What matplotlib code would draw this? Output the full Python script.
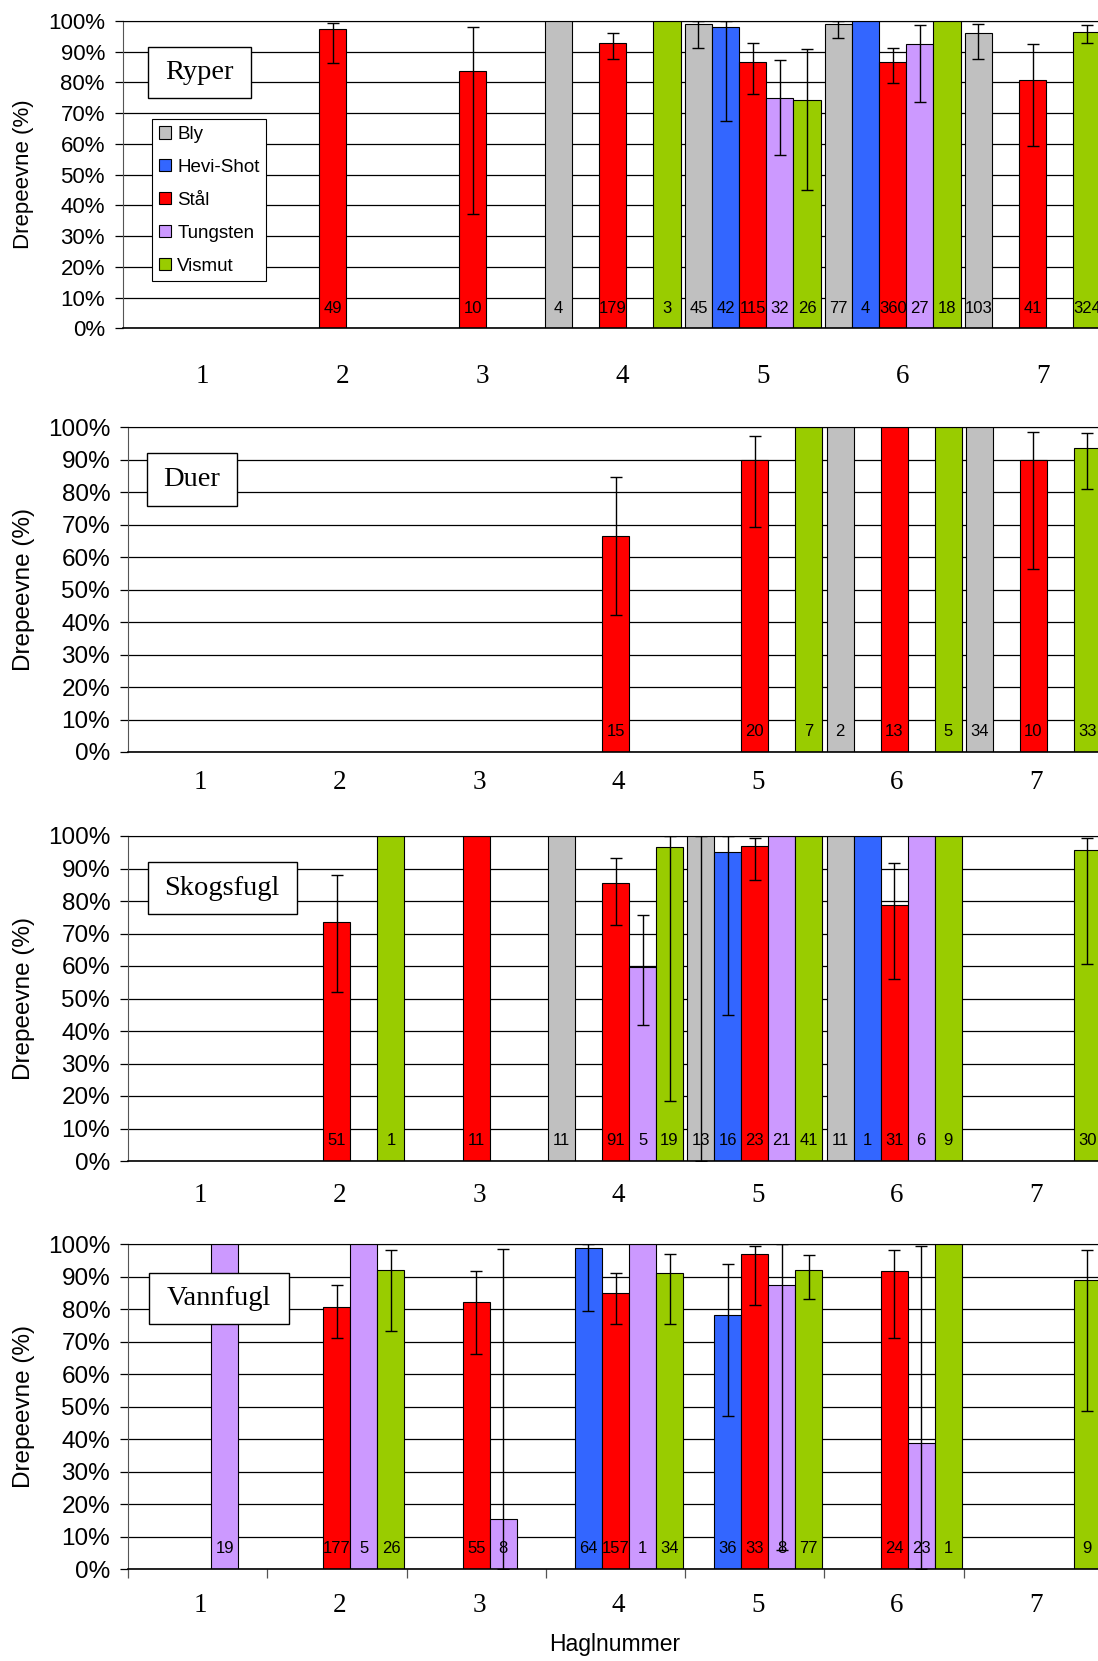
import numpy as np
import matplotlib
matplotlib.use('Agg')
import matplotlib.pyplot as plt
from matplotlib.patches import Rectangle
from matplotlib.transforms import offset_copy

plt.rcParams['font.family'] = 'Liberation Sans'

haglnummer = [1, 2, 3, 4, 5, 6, 7]
materials = ['Bly', 'Hevi-Shot', 'Stål', 'Tungsten', 'Vismut']
colors = ['#C0C0C0', '#3366FF', '#FF0000', '#CC99FF', '#99CC00']

# (haglnummer, material, drepeevne %, nedre, øvre, antall)
ryper = [
    (2, 'Stål', 97.4, 86.3, 99.5, 49),
    (3, 'Stål', 83.7, 37.1, 98.2, 10),
    (4, 'Bly', 100, None, None, 4),
    (4, 'Stål', 92.8, 87.7, 96.0, 179),
    (4, 'Vismut', 100, None, None, 3),
    (5, 'Bly', 99.0, 91.2, 100, 45),
    (5, 'Hevi-Shot', 98.0, 67.6, 100, 42),
    (5, 'Stål', 86.8, 76.1, 93.0, 115),
    (5, 'Tungsten', 75.1, 56.3, 87.3, 32),
    (5, 'Vismut', 74.2, 45.1, 90.9, 26),
    (6, 'Bly', 99.0, 94.5, 100, 77),
    (6, 'Hevi-Shot', 100, None, None, 4),
    (6, 'Stål', 86.8, 79.7, 91.3, 360),
    (6, 'Tungsten', 92.4, 73.6, 98.6, 27),
    (6, 'Vismut', 100, None, None, 18),
    (7, 'Bly', 96.0, 87.7, 99.0, 103),
    (7, 'Stål', 80.7, 59.3, 92.5, 41),
    (7, 'Vismut', 96.4, 92.7, 98.6, 324),
]

duer = [
    (4, 'Stål', 66.5, 42.1, 84.7, 15),
    (5, 'Stål', 90.0, 69.3, 97.3, 20),
    (5, 'Vismut', 100, None, None, 7),
    (6, 'Bly', 100, None, None, 2),
    (6, 'Stål', 100, None, None, 13),
    (6, 'Vismut', 100, None, None, 5),
    (7, 'Bly', 100, None, None, 34),
    (7, 'Stål', 90.0, 56.5, 98.7, 10),
    (7, 'Vismut', 93.7, 81.0, 98.2, 33),
]

skogsfugl = [
    (2, 'Stål', 73.5, 52.0, 87.9, 51),
    (2, 'Vismut', 100, None, None, 1),
    (3, 'Stål', 100, None, None, 11),
    (4, 'Bly', 100, None, None, 11),
    (4, 'Stål', 85.5, 72.6, 93.2, 91),
    (4, 'Tungsten', 59.6, 42.0, 75.6, 5),
    (4, 'Vismut', 96.5, 18.6, 100, 19),
    (5, 'Bly', 100, 0, 100, 13),
    (5, 'Hevi-Shot', 95.1, 44.9, 100, 16),
    (5, 'Stål', 97.0, 86.6, 99.5, 23),
    (5, 'Tungsten', 100, None, None, 21),
    (5, 'Vismut', 100, None, None, 41),
    (6, 'Bly', 100, None, None, 11),
    (6, 'Hevi-Shot', 100, None, None, 1),
    (6, 'Stål', 78.9, 55.9, 91.7, 31),
    (6, 'Tungsten', 100, None, None, 6),
    (6, 'Vismut', 100, None, None, 9),
    (7, 'Vismut', 95.6, 60.7, 99.5, 30),
]

vannfugl = [
    (1, 'Tungsten', 100, None, None, 19),
    (2, 'Stål', 80.7, 71.2, 87.5, 177),
    (2, 'Tungsten', 100, None, None, 5),
    (2, 'Vismut', 92.2, 73.2, 98.1, 26),
    (3, 'Stål', 82.2, 66.4, 91.8, 55),
    (3, 'Tungsten', 15.4, 0, 98.5, 8),
    (4, 'Hevi-Shot', 98.9, 79.5, 100, 64),
    (4, 'Stål', 85.1, 75.4, 91.3, 157),
    (4, 'Tungsten', 100, None, None, 1),
    (4, 'Vismut', 91.3, 75.4, 97.1, 34),
    (5, 'Hevi-Shot', 78.4, 47.2, 93.8, 36),
    (5, 'Stål', 97.1, 81.2, 99.5, 33),
    (5, 'Tungsten', 87.4, 5.8, 100, 8),
    (5, 'Vismut', 92.2, 83.3, 96.6, 77),
    (6, 'Stål', 91.7, 71.2, 98.1, 24),
    (6, 'Tungsten', 38.8, 0, 99.5, 23),
    (6, 'Vismut', 100, None, None, 1),
    (7, 'Vismut', 88.9, 48.6, 98.4, 9),
]

W, H = 1098, 1661
fig = plt.figure(figsize=(W / 100, H / 100), dpi=100)

# title, data, axes box px (left, top, right, bottom), font size,
# hagl number position below axis (px down, px right), title box px
panels = [
    ('Ryper', ryper, (122.7, 21, 1102.7, 328.3), 16, (48, 10), (148.4, 46.7, 250.8, 98.3)),
    ('Duer', duer, (128, 427.3, 1103, 752), 17.5, (31, 3), (146.6, 453.3, 236.8, 505.7)),
    ('Skogsfugl', skogsfugl, (128, 836, 1103, 1161), 17.5, (34, 3), (147.7, 862.3, 296.7, 914)),
    ('Vannfugl', vannfugl, (128, 1244.3, 1103, 1569.3), 17.5, (36, 3), (148.7, 1272.7, 289.4, 1324)),
]

bar_w = 0.194
axes = []
for i, (title, rows, box, fs, num_off, tbox) in enumerate(panels):
    l, t, r, b = box
    ax = fig.add_axes([l / W, 1 - b / H, (r - l) / W, (b - t) / H])
    axes.append(ax)
    for j, mat in enumerate(materials):
        sub = [row for row in rows if row[1] == mat]
        x = np.array([haglnummer.index(s[0]) for s in sub]) + (j - 2) * bar_w
        v = [s[2] for s in sub]
        ax.bar(x, v, bar_w, color=colors[j], edgecolor='black', linewidth=0.8,
               label=mat, zorder=2)
        for xx, s in zip(x, sub):
            if s[3] is not None:
                ax.errorbar(xx, s[2], yerr=[[s[2] - s[3]], [s[4] - s[2]]], fmt='none',
                            ecolor='black', elinewidth=1, capsize=4.3, capthick=1, zorder=3)
            ax.text(xx, 6.3, str(s[5]), ha='center', va='center', fontsize=12, zorder=4)

    ax.set_xlim(-0.5, 6.5)
    ax.set_ylim(0, 100)
    ax.set_yticks(range(0, 101, 10))
    ax.set_yticklabels([f'{v}%' for v in range(0, 101, 10)])
    ax.yaxis.grid(True, color='black', linewidth=0.9)
    ax.set_axisbelow(True)
    ax.tick_params(axis='y', direction='out', length=5.8, width=0.9, pad=7, labelsize=fs)
    ax.spines['right'].set_visible(False)
    ax.spines['left'].set_color('#555555')
    ax.spines['bottom'].set_linewidth(1.2)

    if i == len(panels) - 1:
        ax.set_xticks(np.arange(-0.5, 7, 1))
        ax.set_xticklabels([])
        ax.tick_params(axis='x', direction='out', length=6.3, width=0.9, color='#555555')
    else:
        ax.set_xticks([])

    tr = offset_copy(ax.get_xaxis_transform(), fig=fig, x=num_off[1], units='dots')
    for k, h in enumerate(haglnummer):
        ax.text(k, -num_off[0] / (b - t), str(h), transform=tr, ha='center', va='center',
                family='Liberation Serif', fontsize=19.5)

    ax.set_ylabel('Drepeevne (%)', fontsize=fs, va='center')
    ax.yaxis.set_label_coords((24 - l) / (r - l), 0.5)

    # title box
    bx0, by0, bx1, by1 = tbox
    fig.add_artist(Rectangle((bx0 / W, 1 - by1 / H), (bx1 - bx0) / W, (by1 - by0) / H,
                             transform=fig.transFigure, facecolor='white',
                             edgecolor='black', linewidth=1, zorder=5))
    fig.text((bx0 + bx1) / 2 / W, 1 - (by0 + by1) / 2 / H, title, ha='center', va='center',
             family='Liberation Serif', fontsize=20.5, zorder=6)

leg = axes[0].legend(loc='upper left', bbox_to_anchor=(152 / W, 1 - 119.3 / H),
                     bbox_transform=fig.transFigure, borderaxespad=0, fontsize=13.5,
                     fancybox=False, edgecolor='black', framealpha=1,
                     handlelength=0.65, handleheight=0.65, handletextpad=0.35,
                     labelspacing=0.85, borderpad=0.35)
leg.get_frame().set_linewidth(0.8)
leg.set_zorder(10)

fig.text(615 / W, 1 - 1645 / H, 'Haglnummer', ha='center', va='center', fontsize=16.5)

fig.savefig('out.png', dpi=100)
